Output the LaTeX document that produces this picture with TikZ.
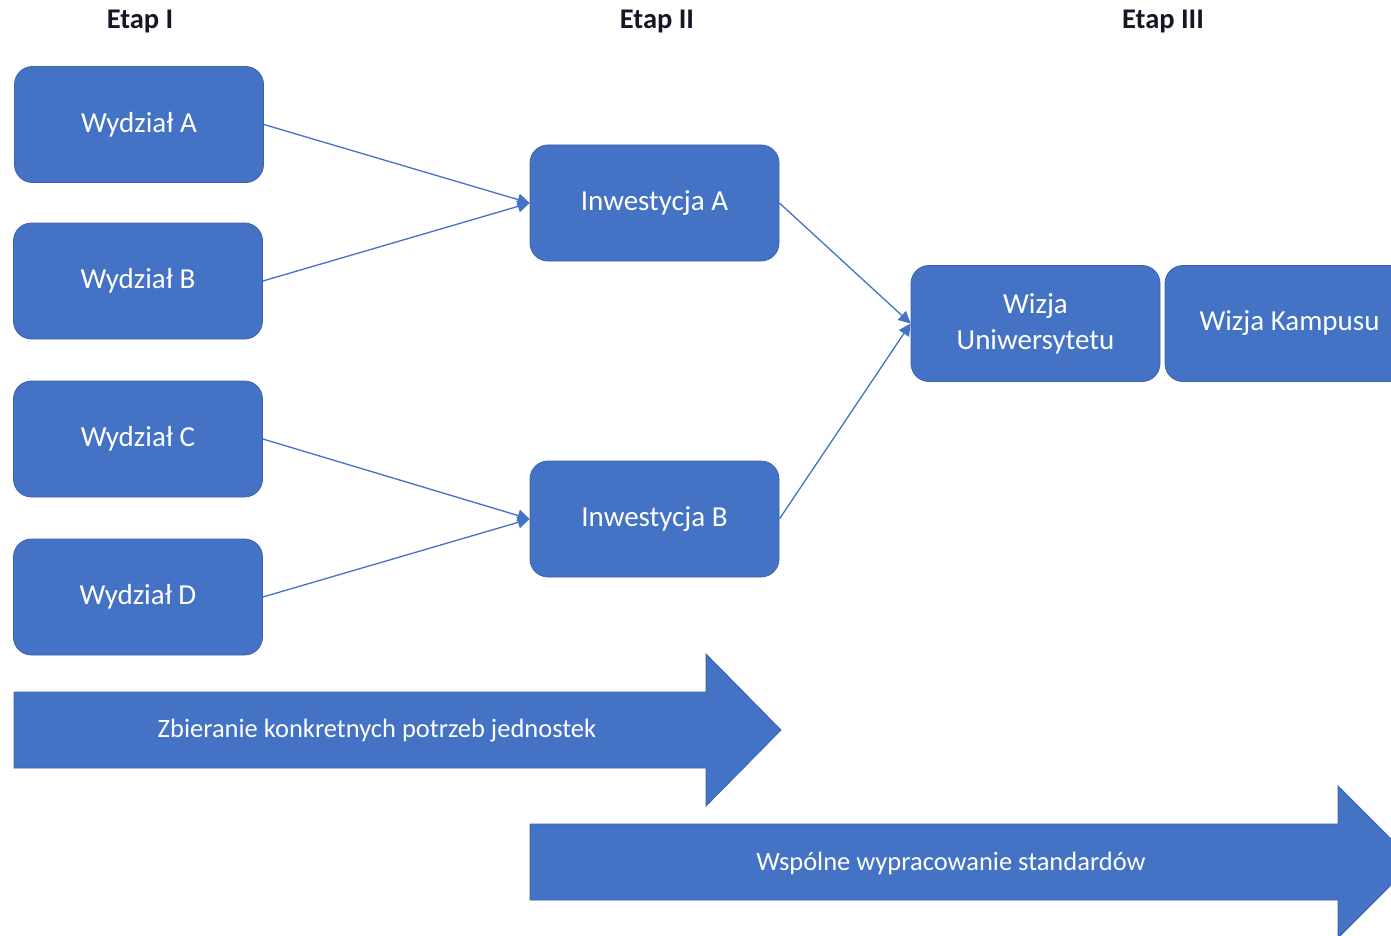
\documentclass[tikz,border=0pt]{standalone}
\usepackage{fontspec}
\setmainfont{Carlito}
\usetikzlibrary{arrows.meta}
\definecolor{officeblue}{HTML}{4472C4}
\definecolor{edgeblue}{HTML}{3A62AE}
\definecolor{titlecol}{HTML}{1A1526}
\begin{document}
\begin{tikzpicture}[x=1pt,y=-1pt,
  box/.style={draw=edgeblue, line width=0.8pt, fill=officeblue, rounded corners=18pt,
    minimum width=249pt, minimum height=116pt, text=white, align=center,
    font=\fontsize{29}{36}\selectfont, inner sep=0pt},
  etap/.style={text=titlecol, font=\bfseries\fontsize{28.5}{32}\selectfont, inner sep=0pt},
  conn/.style={draw=officeblue, line width=1.3pt, -{Triangle[length=12pt,width=12pt]}},
  bigarrow/.style={fill=officeblue, draw=edgeblue, line width=0.8pt},
  arrowtext/.style={text=white, font=\fontsize{26.5}{30}\selectfont, inner sep=0pt}]
\useasboundingbox (0,0) rectangle (1391,936);
\clip (0,0) rectangle (1391,936);
\fill[white] (0,0) rectangle (1391,936);

\node[etap] (t1) at (140,22) {Etap I};
\node[etap] (t2) at (657,22) {Etap II};
\node[etap] (t3) at (1163,22) {Etap III};

\node[box] (wa) at (139,124.5) {Wydział A};
\node[box] (wb) at (138,281) {Wydział B};
\node[box] (wc) at (138,439) {Wydział C};
\node[box] (wd) at (138,597) {Wydział D};
\node[box] (ia) at (654.5,203) {Inwestycja A};
\node[box] (ib) at (654.5,519) {Inwestycja B};
\node[box] (wu) at (1035.5,323.5) {Wizja\\Uniwersytetu};
\node[box] (wk) at (1289.5,323.5) {Wizja Kampusu};

\draw[conn] (wa.east) -- (ia.west);
\draw[conn] (wb.east) -- (ia.west);
\draw[conn] (wc.east) -- (ib.west);
\draw[conn] (wd.east) -- (ib.west);
\draw[conn] (ia.east) -- (wu.west);
\draw[conn] (ib.east) -- (wu.west);

\path[bigarrow] (14,692) -- (706,692) -- (706,654) -- (781,730) -- (706,806) -- (706,768) -- (14,768) -- cycle;
\node[arrowtext] (z1) at (377,731) {Zbieranie konkretnych potrzeb jednostek};

\path[bigarrow] (530,824) -- (1338,824) -- (1338,786) -- (1414,862) -- (1338,938) -- (1338,900) -- (530,900) -- cycle;
\node[arrowtext] (z2) at (951,863) {Wspólne wypracowanie standardów};
\end{tikzpicture}
\end{document}
